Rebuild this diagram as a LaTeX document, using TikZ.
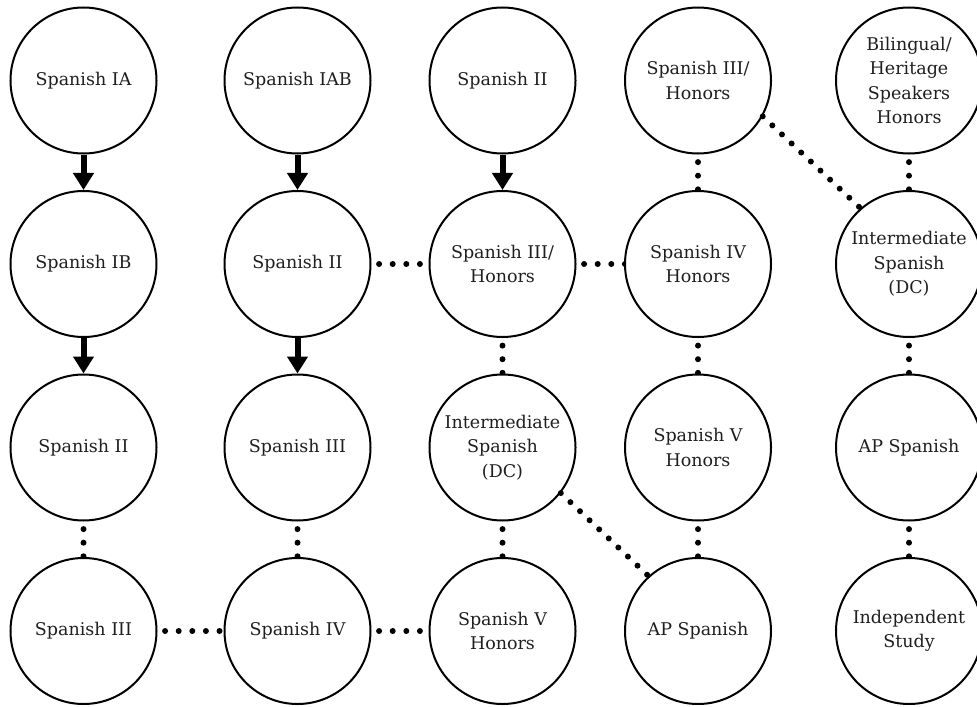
\documentclass[tikz,border=0pt]{standalone}
\usepackage{fontspec}
\setmainfont{DejaVu Serif}
\usetikzlibrary{arrows.meta,backgrounds}
\begin{document}
\begin{tikzpicture}[x=1bp,y=-1bp,
  course/.style={circle, draw=black, line width=2bp, fill=white, minimum size=146bp,
    inner sep=0pt, align=center, text=black!88,
    font=\fontsize{17.5bp}{24.5bp}\selectfont},
  arrowlink/.style={line width=6bp, -{Triangle[length=17bp,width=20bp]}},
  dotlink/.style={line width=6bp, line cap=round, dash pattern=on 0pt off 13.6bp},
  diaglink/.style={line width=6bp, line cap=round, dash pattern=on 0pt off 13.2bp}]
\useasboundingbox (0,0) rectangle (977,707);
% column 1
\node[course] (a1) at (83.5,80.5) {Spanish IA};
\node[course] (a2) at (83.5,264) {Spanish IB};
\node[course] (a3) at (83.5,447.5) {Spanish II};
\node[course] (a4) at (83.5,631) {Spanish III};
% column 2
\node[course] (b1) at (297.5,80.5) {Spanish IAB};
\node[course] (b2) at (297.5,264) {Spanish II};
\node[course] (b3) at (297.5,447.5) {Spanish III};
\node[course] (b4) at (297.5,631) {Spanish IV};
% column 3
\node[course] (c1) at (502.5,80.5) {Spanish II};
\node[course] (c2) at (502.5,264) {Spanish III/\\Honors};
\node[course] (c3) at (502.5,447.5) {Intermediate\\Spanish\\(DC)};
\node[course] (c4) at (502.5,631) {Spanish V\\Honors};
% column 4
\node[course] (d1) at (698,80.5) {Spanish III/\\Honors};
\node[course] (d2) at (698,264) {Spanish IV\\Honors};
\node[course] (d3) at (698,447.5) {Spanish V\\Honors};
\node[course] (d4) at (698,631) {AP Spanish};
% column 5
\node[course] (e1) at (909,80.5) {Bilingual/\\Heritage\\Speakers\\Honors};
\node[course] (e2) at (909,264) {Intermediate\\Spanish\\(DC)};
\node[course] (e3) at (909,447.5) {AP Spanish};
\node[course] (e4) at (909,631) {Independent\\Study};
% solid arrows
\draw[arrowlink] (a1) -- (a2);
\draw[arrowlink] (a2) -- (a3);
\draw[arrowlink] (b1) -- (b2);
\draw[arrowlink] (b2) -- (b3);
\draw[arrowlink] (c1) -- (c2);
% dotted links behind the circles
\begin{scope}[on background layer]
\draw[dotlink] (a3.center) -- (a4.center);
\draw[dotlink] (b3.center) -- (b4.center);
\draw[dotlink] (a4.center) -- (b4.center);
\draw[dotlink] (b4.center) -- (c4.center);
\draw[dotlink] (b2.center) -- (c2.center);
\draw[dotlink] (c2.center) -- (d2.center);
\draw[dotlink] (c2.center) -- (c3.center);
\draw[dotlink] (c3.center) -- (c4.center);
\draw[dotlink] (d1.center) -- (d2.center);
\draw[dotlink] (d2.center) -- (d3.center);
\draw[dotlink] (d3.center) -- (d4.center);
\draw[dotlink] (e1.center) -- (e2.center);
\draw[dotlink] (e2.center) -- (e3.center);
\draw[dotlink] (e3.center) -- (e4.center);
\end{scope}
\draw[diaglink] (d1.-29) -- (e2.131);
\draw[diaglink] (c3.-38.5) -- (d4.132);
\end{tikzpicture}
\end{document}
